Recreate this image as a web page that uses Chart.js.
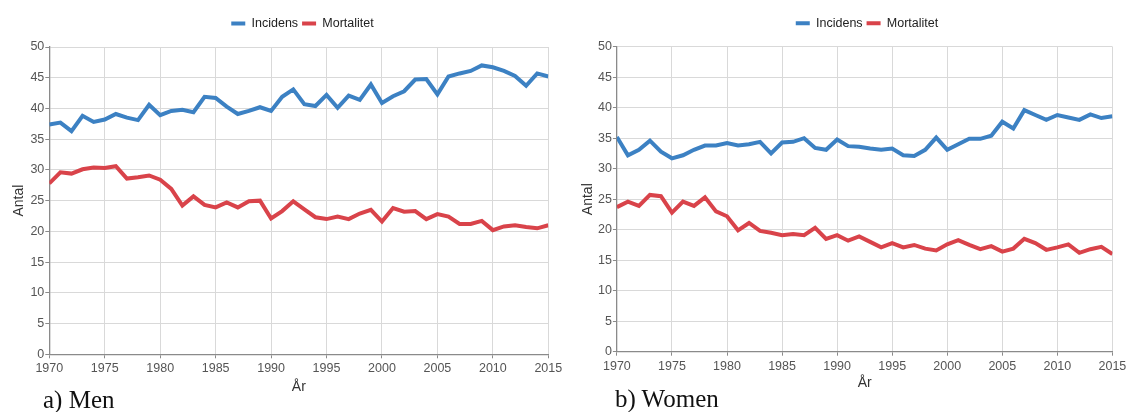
<!DOCTYPE html>
<html>
<head>
<meta charset="utf-8">
<script src="https://cdn.jsdelivr.net/npm/chart.js@4/dist/chart.umd.min.js"></script>
<style>
  html, body { margin: 0; padding: 0; background: #fff; width: 1126px; height: 412px; overflow: hidden; position: relative; }
  canvas { position: absolute; top: 0; }
  #c-men { left: 0; }
  #c-women { left: 563px; }
  .caption { position: absolute; font-family: "Liberation Serif", "Times New Roman", serif; font-size: 25px; line-height: 25px; color: #111; white-space: nowrap; }
</style>
</head>
<body>
<canvas id="c-men" width="605" height="400"></canvas>
<canvas id="c-women" width="608" height="400"></canvas>
<div class="caption" style="left:43px; top:387px;">a) Men</div>
<div class="caption" style="left:615px; top:386px;">b) Women</div>
<script>
// Years on the x axis
const years = [1970, 1971, 1972, 1973, 1974, 1975, 1976, 1977, 1978, 1979,
               1980, 1981, 1982, 1983, 1984, 1985, 1986, 1987, 1988, 1989,
               1990, 1991, 1992, 1993, 1994, 1995, 1996, 1997, 1998, 1999,
               2000, 2001, 2002, 2003, 2004, 2005, 2006, 2007, 2008, 2009,
               2010, 2011, 2012, 2013, 2014, 2015];

// Men
const menIncidens = [37.4, 37.7, 36.3, 38.8, 37.8, 38.2, 39.1, 38.5, 38.1, 40.6,
                     38.9, 39.6, 39.8, 39.4, 41.9, 41.7, 40.3, 39.1, 39.6, 40.2,
                     39.6, 41.9, 43.1, 40.7, 40.4, 42.2, 40.1, 42.1, 41.4, 43.9,
                     40.9, 42.0, 42.8, 44.7, 44.8, 42.3, 45.2, 45.7, 46.1, 47.0,
                     46.7, 46.1, 45.3, 43.7, 45.7, 45.2];
const menMortalitet = [27.8, 29.6, 29.4, 30.1, 30.4, 30.3, 30.6, 28.6, 28.8, 29.1,
                       28.4, 26.9, 24.2, 25.7, 24.3, 23.9, 24.7, 23.9, 24.9, 25.0,
                       22.1, 23.3, 24.9, 23.6, 22.3, 22.0, 22.4, 22.0, 22.9, 23.5,
                       21.6, 23.8, 23.2, 23.3, 22.0, 22.8, 22.4, 21.2, 21.2, 21.7,
                       20.2, 20.8, 21.0, 20.7, 20.5, 21.0];

// Women
const womenIncidens = [35.2, 32.2, 33.1, 34.6, 32.8, 31.7, 32.2, 33.1, 33.8, 33.8,
                       34.2, 33.8, 34.0, 34.4, 32.5, 34.3, 34.4, 35.0, 33.4, 33.1,
                       34.8, 33.7, 33.6, 33.3, 33.1, 33.3, 32.2, 32.1, 33.1, 35.1,
                       33.1, 34.0, 34.9, 34.9, 35.4, 37.7, 36.6, 39.6, 38.8, 38.0,
                       38.8, 38.4, 38.0, 38.9, 38.3, 38.6];
const womenMortalitet = [23.7, 24.6, 23.9, 25.7, 25.5, 22.8, 24.6, 23.9, 25.3, 23.0,
                         22.2, 19.9, 21.1, 19.8, 19.5, 19.1, 19.3, 19.1, 20.3, 18.5,
                         19.1, 18.2, 18.9, 18.0, 17.1, 17.8, 17.1, 17.5, 16.9, 16.6,
                         17.6, 18.3, 17.5, 16.8, 17.3, 16.4, 16.9, 18.5, 17.8, 16.7,
                         17.1, 17.6, 16.2, 16.8, 17.2, 16.0];

const yTicks = [0, 5, 10, 15, 20, 25, 30, 35, 40, 45, 50];
const xTicks = [1970, 1975, 1980, 1985, 1990, 1995, 2000, 2005, 2010, 2015];

const seriesNames = ['Incidens', 'Mortalitet'];
const BLUE = '#3c81c3';
const RED = '#d9434a';
const FONT = '"Liberation Sans", Arial, sans-serif';

function points(values) {
  return values.map((v, i) => ({ x: years[i], y: v }));
}

// Leaves a little extra room between the legend row and the plot area.
const legendGap = {
  id: 'legendGap',
  beforeLayout(chart, _args, opts) {
    const legend = chart.legend;
    if (legend && !legend._gapPatched) {
      const fit = legend.fit;
      legend.fit = function () {
        fit.call(this);
        this.height += opts.extra || 0;
      };
      legend._gapPatched = true;
    }
  }
};

// geo: plot-area geometry for each panel (px inside its canvas)
function makeChart(id, incidens, mortalitet, geo) {
  const ctx = document.getElementById(id);
  const W = ctx.width, H = ctx.height;
  return new Chart(ctx, {
    type: 'line',
    data: {
      datasets: [
        { label: seriesNames[0], data: points(incidens), borderColor: BLUE, backgroundColor: BLUE,
          borderWidth: 4, pointRadius: 0, pointHoverRadius: 0, tension: 0, fill: false },
        { label: seriesNames[1], data: points(mortalitet), borderColor: RED, backgroundColor: RED,
          borderWidth: 4, pointRadius: 0, pointHoverRadius: 0, tension: 0, fill: false }
      ]
    },
    plugins: [legendGap],
    options: {
      responsive: false,
      animation: false,
      events: [],
      layout: { padding: 0 },
      plugins: {
        tooltip: { enabled: false },
        legendGap: { extra: 7.25 },
        legend: {
          display: true,
          position: 'top',
          align: 'center',
          labels: {
            boxWidth: 14,
            boxHeight: 4,
            padding: 4,
            color: '#222',
            font: { family: FONT, size: 12.5 },
            generateLabels: chart => Chart.defaults.plugins.legend.labels.generateLabels(chart)
              .map(l => Object.assign({}, l, { lineWidth: 0, fillStyle: l.strokeStyle }))
          }
        }
      },
      scales: {
        x: {
          type: 'linear',
          min: years[0],
          max: years[years.length - 1],
          afterBuildTicks: s => { s.ticks = xTicks.map(v => ({ value: v })); },
          ticks: { color: '#555', font: { family: FONT, size: 12.5 }, padding: 3, maxRotation: 0,
                   autoSkip: false, callback: v => String(v) },
          grid: { color: '#d9d9d9', lineWidth: 1, tickLength: 4, tickColor: '#8a8a8a', drawTicks: true },
          border: { color: '#8a8a8a', width: 1.3 },
          title: { display: true, text: 'År', color: '#333', font: { family: FONT, size: 14 },
                   padding: { top: 0, bottom: geo.xTitlePad } },
          afterFit: s => {
            s.height = H - geo.bottom;
            s.paddingLeft = 0;
            s.paddingRight = W - geo.right;
          }
        },
        y: {
          type: 'linear',
          min: 0,
          max: 50,
          afterBuildTicks: s => { s.ticks = yTicks.map(v => ({ value: v })); },
          ticks: { color: '#555', font: { family: FONT, size: 12.5 }, padding: 1 },
          grid: { color: '#d9d9d9', lineWidth: 1, tickLength: 4, tickColor: '#8a8a8a', drawTicks: true },
          border: { color: '#8a8a8a', width: 1.3 },
          title: { display: true, text: 'Antal', color: '#333', font: { family: FONT, size: 14 },
                   padding: { top: geo.yTitlePad, bottom: 0 } },
          afterFit: s => {
            s.width = geo.left;
            s.paddingTop = geo.top;
            s.paddingBottom = 0;
          }
        }
      }
    }
  });
}

makeChart('c-men', menIncidens, menMortalitet,
  { left: 49.3, right: 548.3, top: 47, bottom: 354.3, xTitlePad: 4.6, yTitlePad: 10.6 });
makeChart('c-women', womenIncidens, womenMortalitet,
  { left: 53.9, right: 549.4, top: 46.7, bottom: 351.7, xTitlePad: 8.6, yTitlePad: 16.4 });
</script>
</body>
</html>
